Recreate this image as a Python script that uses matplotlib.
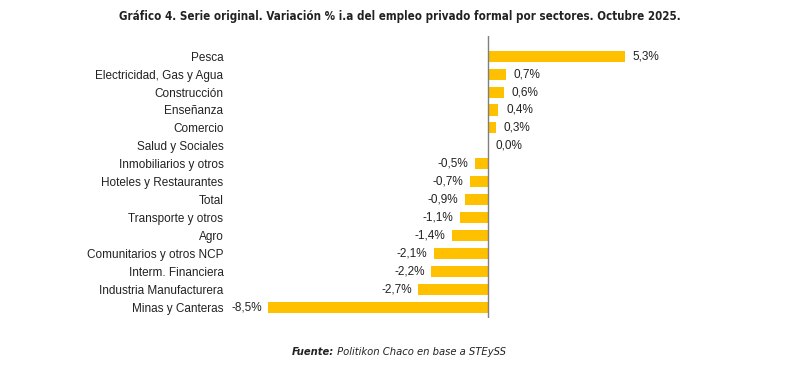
import matplotlib.pyplot as plt

sectores = ["Pesca", "Electricidad, Gas y Agua", "Construcción", "Enseñanza",
            "Comercio", "Salud y Sociales", "Inmobiliarios y otros",
            "Hoteles y Restaurantes", "Total", "Transporte y otros", "Agro",
            "Comunitarios y otros NCP", "Interm. Financiera",
            "Industria Manufacturera", "Minas y Canteras"]
variacion = [5.3, 0.7, 0.6, 0.4, 0.3, 0.0, -0.5, -0.7, -0.9, -1.1, -1.4,
             -2.1, -2.2, -2.7, -8.5]

fuente = ["Liberation Sans", "DejaVu Sans"]

fig = plt.figure(figsize=(8, 3.73), dpi=100)
ax = fig.add_axes([0.3193, 0.1475, 0.4846, 0.7547])

pos = list(range(len(sectores)))
ax.barh(pos, variacion, height=0.62, color="#FFC000")
ax.axvline(0, color="#7f7f7f", lw=1)

for y, v in zip(pos, variacion):
    txt = f"{v:.1f}%".replace(".", ",")
    if v >= 0:
        ax.text(v + 0.3, y, txt, va="center", ha="left", fontsize=8.5,
                family=fuente, color="#222222")
    else:
        ax.text(v - 0.25, y, txt, va="center", ha="right", fontsize=8.5,
                family=fuente, color="#222222")

ax.set_xlim(-9, 6)
ax.set_ylim(14.6, -1.1)
ax.set_yticks(pos)
ax.set_yticklabels(sectores, fontsize=8.5, family=fuente, color="#222222")
ax.tick_params(axis="y", length=0, pad=23)
ax.set_xticks([])
for s in ax.spines.values():
    s.set_visible(False)

fig.text(0.5, 0.955, "Gráfico 4. Serie original. Variación % i.a del empleo privado formal por sectores. Octubre 2025.",
         ha="center", va="center", fontsize=8.3, fontweight="bold",
         family="DejaVu Sans", fontstretch="condensed", color="#222222")
t1 = fig.text(0.365, 0.055, "Fuente:", ha="left", va="center", fontsize=8,
              fontweight="bold", style="italic", family="DejaVu Sans",
              fontstretch="condensed", color="#222222")
fig.add_artist(plt.Annotation(" Politikon Chaco en base a STEySS", xy=(1, 0.5),
                              xycoords=t1, ha="left", va="center",
                              fontsize=8, style="italic", family="DejaVu Sans",
                              fontstretch="condensed", color="#222222"))

fig.savefig("out.png", dpi=100)
